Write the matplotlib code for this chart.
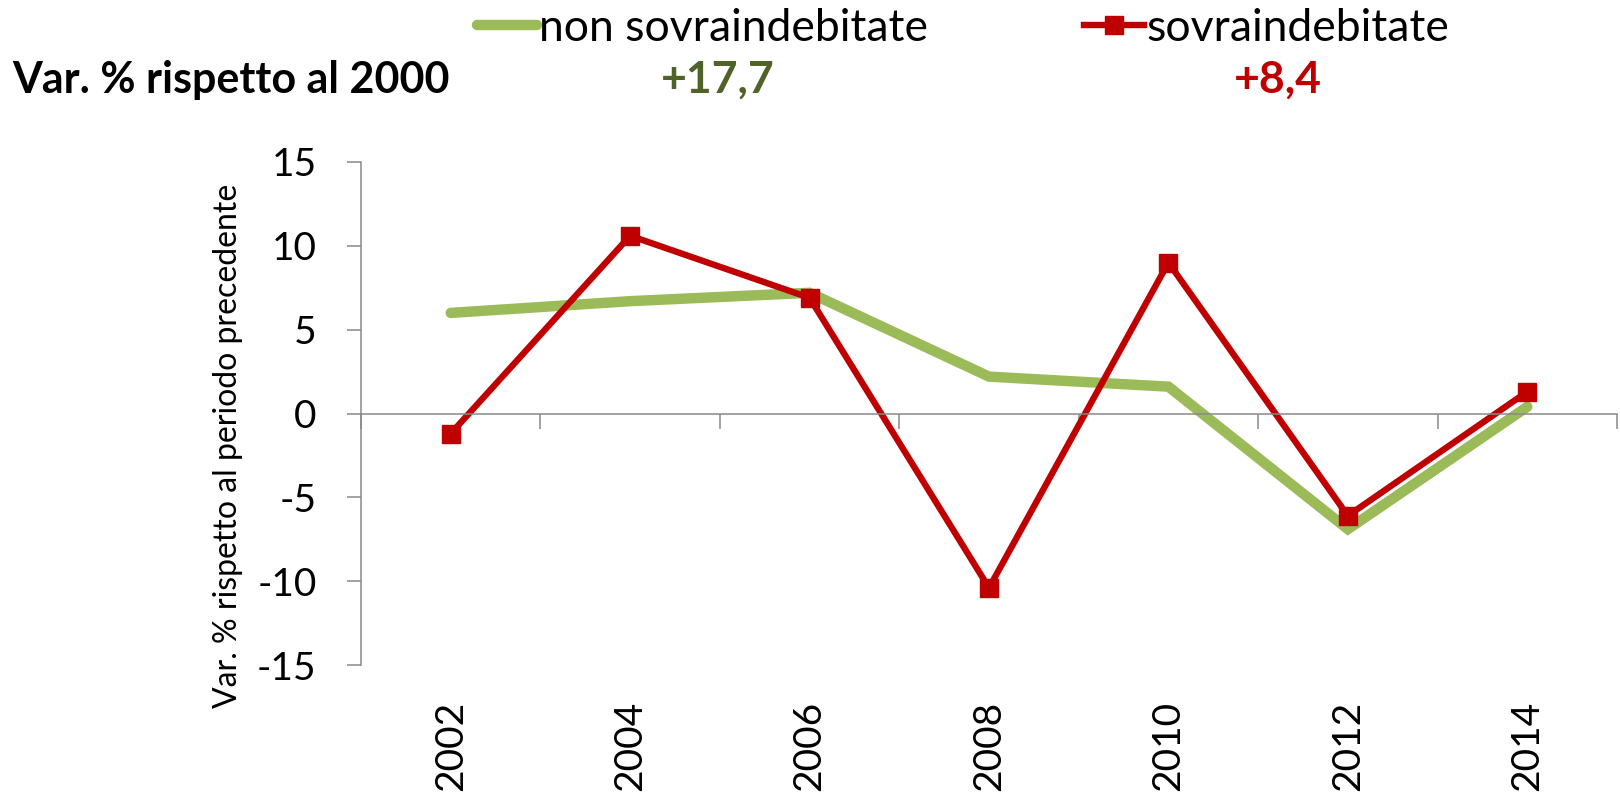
import matplotlib
matplotlib.use("Agg")
import matplotlib.pyplot as plt
import numpy as np

# Data
years = ["2002", "2004", "2006", "2008", "2010", "2012", "2014"]
non_sovra = [6.0, 6.7, 7.2, 2.2, 1.6, -6.9, 0.4]
sovra = [-1.2, 10.6, 6.9, -10.4, 9.0, -6.1, 1.3]
series_labels = ["non sovraindebitate", "sovraindebitate"]
cum_label = "Var. % rispetto al 2000"
cum_values = ["+17,7", "+8,4"]
y_label = "Var. % rispetto al periodo precedente"
y_ticks = [-15, -10, -5, 0, 5, 10, 15]

GREEN = "#9BBB59"
RED = "#C00000"
DARK_GREEN = "#4F6228"
AXIS_GREY = "#898989"

W, H = 1620, 794

plt.rcParams["font.family"] = ["Lato", "DejaVu Sans"]
plt.rcParams["axes.unicode_minus"] = False

fig = plt.figure(figsize=(W / 100, H / 100), dpi=100)
ax = fig.add_axes([361 / W, 1 - 665 / H, (1617 - 361) / W, (665 - 162) / H])

x = np.arange(len(years))
line_g, = ax.plot(x, non_sovra, color=GREEN, lw=7.5,
                  solid_capstyle="round", solid_joinstyle="miter")
line_r, = ax.plot(x, sovra, color=RED, lw=4.6, marker="s", ms=12.5,
                  solid_joinstyle="miter")

ax.set_xlim(-0.5, len(years) - 0.5)
ax.set_ylim(-15, 15)
ax.set_yticks(y_ticks)
ax.tick_params(axis="y", labelsize=28, length=10, width=1.1,
               color=AXIS_GREY, pad=22)

# category axis crossing at zero, ticks between categories
ax.spines["bottom"].set_position(("data", 0))
ax.set_xticks([])
ax.set_xticks(np.arange(-0.5, len(years)), minor=True)
ax.tick_params(axis="x", which="minor", length=11, width=1.1,
               color=AXIS_GREY, direction="out")
for side in ("top", "right"):
    ax.spines[side].set_visible(False)
for side in ("left", "bottom"):
    ax.spines[side].set_color(AXIS_GREY)
    ax.spines[side].set_linewidth(1.1)

# year labels sit below the plot area
sec = ax.secondary_xaxis(0)
sec.set_xticks(x, years, rotation=90)
sec.tick_params(length=0, labelsize=28, pad=26)
sec.spines["bottom"].set_visible(False)

ax.set_ylabel(y_label, fontsize=23)
ax.yaxis.set_label_coords(-0.094, 0.435)

fig.legend([line_g, line_r], series_labels, loc="upper left",
           bbox_to_anchor=(477 / W, 1 - 8 / H), ncol=2, frameon=False,
           fontsize=32, handlelength=1.35, handletextpad=0.05,
           columnspacing=3.5, borderaxespad=0, borderpad=0, numpoints=1)

fig.text(12 / W, 1 - 80 / H, cum_label, fontsize=31, weight="bold",
         va="center", ha="left")
fig.text(718 / W, 1 - 80 / H, cum_values[0], fontsize=32, weight="bold",
         va="center", ha="center", color=DARK_GREEN)
fig.text(1278 / W, 1 - 80 / H, cum_values[1], fontsize=32, weight="bold",
         va="center", ha="center", color=RED)

fig.savefig("out.png", dpi=100)
